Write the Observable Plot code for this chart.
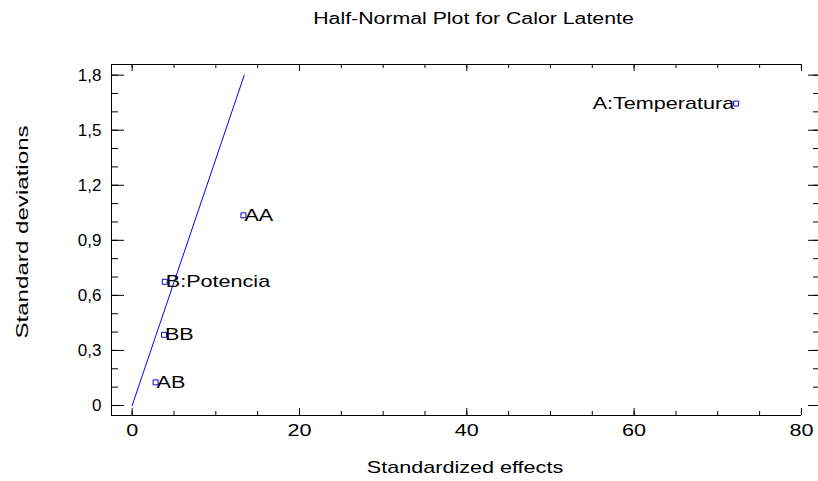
<!DOCTYPE html>
<html>
<head>
<meta charset="utf-8">
<script src="https://cdn.jsdelivr.net/npm/d3@7"></script>
<script src="https://cdn.jsdelivr.net/npm/@observablehq/plot@0.6"></script>
<style>
  html, body { margin: 0; padding: 0; background: #fff; }
  #wrap { position: relative; width: 818px; height: 481px; font-family: "Liberation Sans", Arial, sans-serif; }
  #wrap svg { position: absolute; left: 0; top: 0; }
  #title { position: absolute; left: 0; top: 10px; width: 818px; text-align: center; font-size: 16px; line-height: 18px; color: #000; z-index: 2; pointer-events: none; }
  #title span { display: inline-block; transform: scaleX(1.33); transform-origin: center; margin-left: 128px; }
</style>
</head>
<body>
<div id="wrap"></div>
<script>
// ---- data ----
const titleText = "Half-Normal Plot for Calor Latente";
const xLabel = "Standardized effects";
const yLabel = "Standard deviations";
const effectNames = ["A:Temperatura", "AA", "B:Potencia", "BB", "AB"];
const effectValues = [72.2, 13.3, 3.9, 3.8, 2.8];
const halfNormalQuantiles = [1.645, 1.036, 0.674, 0.385, 0.126];
const refLineX = [0, 13.4];
const refLineY = [0, 1.8];
const xMajorTicks = [0, 20, 40, 60, 80];
const xMinorTicks = [0, 5, 10, 15, 20, 25, 30, 35, 40, 45, 50, 55, 60, 65, 70, 75, 80];
const yMajorTicks = [0, 0.3, 0.6, 0.9, 1.2, 1.5, 1.8];
const yMinorTicks = [0, 0.1, 0.2, 0.3, 0.4, 0.5, 0.6, 0.7, 0.8, 0.9, 1.0, 1.1, 1.2, 1.3, 1.4, 1.5, 1.6, 1.7, 1.8];

// ---- layout ----
const W = 818, H = 481;
const mL = 111, mR = 0, mT = 64, mB = 66;
const fw = W - mL - mR, fh = H - mT - mB;
const xDom = [-2.47, 82.04];
const yDom = [-0.0545, 1.858];
const blue = "#0000ff";

const points = effectNames.map((n, i) => ({name: n, x: effectValues[i], y: halfNormalQuantiles[i]}));
const refLine = refLineX.map((x, i) => ({x, y: refLineY[i]}));
const fmtY = d => d === 0 ? "0" : d.toFixed(1).replace(".", ",");
const rightLabeled = points.filter(d => d.name === "A:Temperatura");
const leftLabeled = points.filter(d => d.name !== "A:Temperatura");

const chart = Plot.plot({
  width: W, height: H,
  marginLeft: mL, marginRight: mR, marginTop: mT, marginBottom: mB,
  style: {fontFamily: "'Liberation Sans', Arial, sans-serif", fontSize: "17px", color: "#000", background: "#fff"},
  x: {domain: xDom, axis: null},
  y: {domain: yDom, axis: null},
  marks: [
    // frame
    Plot.ruleX([xDom[0]], {stroke: "#000"}),
    Plot.ruleY([yDom[0]], {x1: xDom[0], x2: 80, stroke: "#000"}),
    Plot.ruleY([yDom[1]], {x1: xDom[0], x2: 80, stroke: "#000"}),
    // x ticks bottom & top
    Plot.tickX(xMinorTicks, {x: d => d, insetTop: fh - 4, stroke: "#000"}),
    Plot.tickX(xMajorTicks, {x: d => d, insetTop: fh - 7, stroke: "#000"}),
    Plot.tickX(xMinorTicks, {x: d => d, insetBottom: fh - 4, stroke: "#000"}),
    Plot.tickX(xMajorTicks, {x: d => d, insetBottom: fh - 7, stroke: "#000"}),
    // y ticks left & right
    Plot.tickY(yMinorTicks, {y: d => d, insetRight: fw - 7, stroke: "#000"}),
    Plot.tickY(yMajorTicks, {y: d => d, insetRight: fw - 13, stroke: "#000"}),
    Plot.tickY(yMinorTicks, {y: d => d, insetLeft: fw - 5, stroke: "#000"}),
    Plot.tickY(yMajorTicks, {y: d => d, insetLeft: fw - 10, stroke: "#000"}),
    // tick labels
    Plot.axisX(xMajorTicks, {tickSize: 0, tickPadding: 8, fontSize: 17, label: null, tickFormat: d => String(d)}),
    Plot.axisY(yMajorTicks, {tickSize: 0, tickPadding: 10, fontSize: 17, label: null, tickFormat: fmtY}),
    // axis labels
    Plot.text([xLabel], {frameAnchor: "bottom", dy: 52, lineAnchor: "middle", textAnchor: "middle", text: d => d, fontSize: 17}),
    Plot.text([yLabel], {frameAnchor: "left", dx: -89, dy: -8, rotate: -90, lineAnchor: "middle", textAnchor: "middle", text: d => d, fontSize: 17}),
    // reference line
    Plot.line(refLine, {x: "x", y: "y", stroke: blue, strokeWidth: 1}),
    // points
    Plot.dot(points, {x: "x", y: "y", symbol: "square", r: 2.8, stroke: blue, fill: "#fff", strokeWidth: 1}),
    Plot.text(leftLabeled, {x: "x", y: "y", text: "name", fontSize: 17, textAnchor: "start", dx: 1, lineAnchor: "middle"}),
    Plot.text(rightLabeled, {x: "x", y: "y", text: "name", fontSize: 17, textAnchor: "end", dx: -2, lineAnchor: "middle"})
  ]
});

// the reference's glyphs are wider than Arial: stretch each text along its own baseline
chart.querySelectorAll("text").forEach(t => {
  let s = 1.27;
  if (t.closest('g[aria-label="y-axis tick label"]')) s = 1.0;
  if (t.textContent === yLabel) s = 1.42;
  const tr = t.getAttribute("transform") || "";
  t.setAttribute("transform", tr + ` scale(${s},1)`);
});
const wrap = document.getElementById("wrap");
wrap.appendChild(chart);
const title = document.createElement("div");
title.id = "title";
const span = document.createElement("span");
span.textContent = titleText;
title.appendChild(span);
wrap.appendChild(title);
</script>
</body>
</html>
